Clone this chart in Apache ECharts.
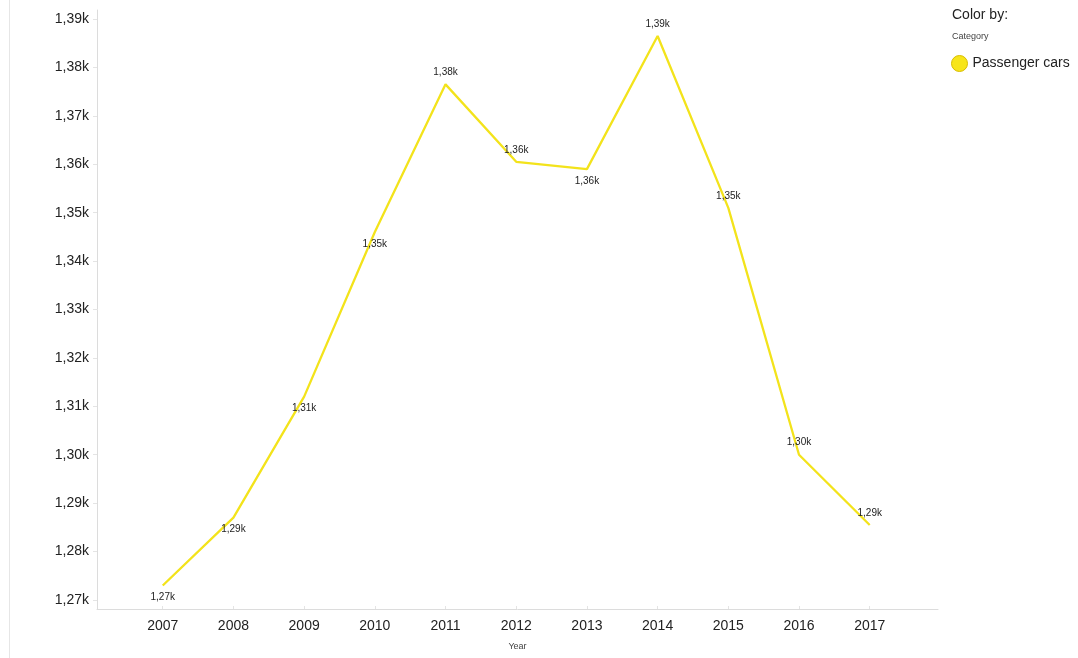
<!DOCTYPE html>
<html>
<head>
<meta charset="utf-8">
<script src="https://cdn.jsdelivr.net/npm/echarts@6/dist/echarts.min.js"></script>
<style>
html,body{margin:0;padding:0;background:#fff;}
#chart{width:1078px;height:658px;}
</style>
</head>
<body>
<div id="chart"></div>
<script>
// ---- data ----
const years = [2007, 2008, 2009, 2010, 2011, 2012, 2013, 2014, 2015, 2016, 2017];
const passengerCars = [1273, 1287, 1312, 1346, 1376.5, 1360.5, 1359, 1386.5, 1351, 1300, 1285.5];
const yTicks = [1270, 1280, 1290, 1300, 1310, 1320, 1330, 1340, 1350, 1360, 1370, 1380, 1390];
const seriesName = 'Passenger cars';

// label placement (style, not data)
const labelBelow = new Set([2007, 2008, 2009, 2010, 2013]);

function fmtK(v) {
  const r = Math.round(v / 10) / 100;
  return r.toFixed(2).replace('.', ',') + 'k';
}

const chart = echarts.init(document.getElementById('chart'));
const font = 'Arial, "Liberation Sans", sans-serif';

chart.setOption({
  animation: false,
  backgroundColor: '#fff',
  textStyle: { fontFamily: font },
  grid: { left: 97, right: 140, top: 10, bottom: 49, containLabel: false },
  xAxis: {
    type: 'value',
    min: 2006.07,
    max: 2017.966,
    name: 'Year',
    nameLocation: 'middle',
    nameGap: 33,
    nameTextStyle: { fontSize: 9, color: '#444', fontFamily: font },
    axisLine: { show: true, lineStyle: { color: '#dcdcdc', width: 1 } },
    axisTick: { show: true, customValues: years, length: 3, inside: true, lineStyle: { color: '#e4e4e4' } },
    axisLabel: {
      customValues: years,
      formatter: v => String(v),
      fontSize: 14, color: '#222', margin: 10, fontFamily: font
    },
    splitLine: { show: false }
  },
  yAxis: {
    type: 'value',
    min: 1268.14,
    max: 1391.86,
    axisLine: { show: true, lineStyle: { color: '#dcdcdc', width: 1 } },
    axisTick: { show: true, customValues: yTicks, length: 4, lineStyle: { color: '#e4e4e4' } },
    axisLabel: {
      customValues: yTicks,
      formatter: v => fmtK(v),
      fontSize: 14, color: '#222', margin: 8, fontFamily: font
    },
    splitLine: { show: false }
  },
  legend: {
    show: true,
    left: 946,
    top: 50,
    orient: 'vertical',
    icon: 'circle',
    itemWidth: 16,
    itemHeight: 16,
    itemGap: 6,
    textStyle: { fontSize: 14, color: '#222', fontFamily: font },
    itemStyle: { borderColor: '#d9bd00', borderWidth: 1 },
    data: [seriesName]
  },
  graphic: [
    { type: 'line', shape: { x1: 9.5, y1: 0, x2: 9.5, y2: 658 }, style: { stroke: '#e6e6e6', lineWidth: 1 } },
    { type: 'text', left: 952, top: 8, style: { text: 'Color by:', fontSize: 14, fill: '#222', fontFamily: font } },
    { type: 'text', left: 952, top: 32, style: { text: 'Category', fontSize: 9, fill: '#444', fontFamily: font } }
  ],
  series: [{
    name: seriesName,
    type: 'line',
    data: years.map((y, i) => ({
      value: [y, passengerCars[i]],
      label: { position: labelBelow.has(y) ? 'bottom' : 'top' }
    })),
    symbol: 'circle',
    symbolSize: 0.01,
    lineStyle: { color: '#f3e31b', width: 2.3 },
    itemStyle: { color: '#f7e51a' },
    label: {
      show: true,
      distance: 7,
      fontSize: 10,
      color: '#222',
      fontFamily: font,
      formatter: p => fmtK(p.value[1])
    },
    emphasis: { disabled: true }
  }]
});
</script>
</body>
</html>
